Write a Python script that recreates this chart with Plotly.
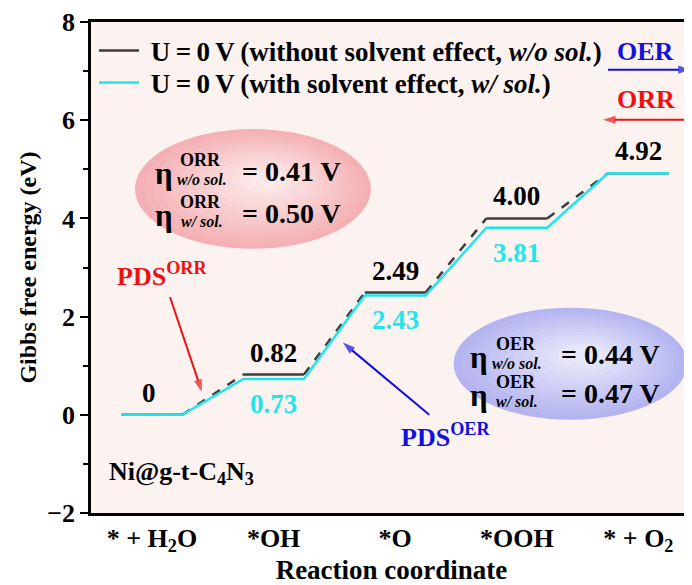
import plotly.graph_objects as go

# ---------------- data ----------------
steps = ["* + H<sub>2</sub>O", "*OH", "*O", "*OOH", "* + O<sub>2</sub>"]
g_without_sol = [0.00, 0.82, 2.49, 4.00, 4.92]
g_with_sol = [0.00, 0.73, 2.43, 3.81, 4.92]
sol_labels = ["w/o sol.", "w/ sol."]
eta_orr = [0.41, 0.50]
eta_oer = [0.44, 0.47]
series_names = [
    "\u00a0U\u2009=\u20090\u2009V\u2009(without solvent effect, <i>w/o sol.</i>)",
    "\u00a0U\u2009=\u20090\u2009V\u2009(with solvent effect, <i>w/ sol.</i>)",
]
material = "Ni@g-t-C<sub>4</sub>N<sub>3</sub>"

# ---------------- style ----------------
FONT = "Liberation Serif"
BLACK_LINE = "#3c3c3c"
CYAN = "#1fe6ec"
RED = "#ee1111"
BLUE = "#1010e0"
HALF = 0.25  # half width of an energy level (in step units)
# the page body has an 8px margin: the figure is shrunk so that it fits the window
PAGE_OFFSET = 8


def levels(vals):
    xs, ys = [], []
    for i, v in enumerate(vals):
        xs += [i - HALF, i + HALF, None]
        ys += [v, v, None]
    return xs, ys


def connectors(vals):
    xs, ys = [], []
    for i in range(len(vals) - 1):
        xs += [i + HALF, i + 1 - HALF, None]
        ys += [vals[i], vals[i + 1], None]
    return xs, ys


def staircase(vals):
    xs, ys = [], []
    for i, v in enumerate(vals):
        xs += [i - HALF, i + HALF]
        ys += [v, v]
    return xs, ys


fig = go.Figure()

lx, ly = levels(g_without_sol)
fig.add_trace(go.Scatter(x=lx, y=ly, mode="lines", name=series_names[0],
                         line=dict(color=BLACK_LINE, width=2.5),
                         legend="legend", hoverinfo="skip"))
cx, cy = connectors(g_without_sol)
fig.add_trace(go.Scatter(x=cx, y=cy, mode="lines", showlegend=False,
                         line=dict(color=BLACK_LINE, width=2.5, dash="dash"),
                         hoverinfo="skip"))
sx, sy = staircase(g_with_sol)
fig.add_trace(go.Scatter(x=sx, y=sy, mode="lines", name=series_names[1],
                         line=dict(color=CYAN, width=2.5),
                         legend="legend2", hoverinfo="skip"))


def arrow(tail, head, color):
    fig.add_trace(go.Scatter(x=[tail[0], head[0]], y=[tail[1], head[1]],
                             mode="lines+markers", showlegend=False, hoverinfo="skip",
                             line=dict(color=color, width=2),
                             marker=dict(symbol=["circle", "arrow"], size=[0, 13],
                                         angleref="previous", color=color,
                                         line=dict(width=0))))


ann = []
# level labels
for i, v in enumerate(g_without_sol):
    ann.append(dict(x=i, y=v, text="0" if v == 0 else f"{v:.2f}", showarrow=False,
                    yshift=22, xshift=-3 if v == 0 else 0,
                    font=dict(size=27, color="black")))
for i, v in enumerate(g_with_sol):
    if 0 < i < len(g_with_sol) - 1:
        ann.append(dict(x=i, y=v, text=f"{v:.2f}", showarrow=False,
                        yshift=-25, font=dict(size=27, color=CYAN)))


# gradient ellipses
def ellipse(cx0, cy0, rx, ry, outer, inner, n=14):
    shapes = []
    for k in range(n):
        t = k / (n - 1)
        f = 1 - 0.85 * t
        col = tuple(round(outer[j] + (inner[j] - outer[j]) * t) for j in range(3))
        ccx = cx0 + 0.12 * rx * t
        ccy = cy0 + 0.15 * ry * t
        shapes.append(dict(type="circle", xref="x", yref="y",
                           x0=ccx - rx * f, x1=ccx + rx * f,
                           y0=ccy - ry * f, y1=ccy + ry * f,
                           fillcolor="rgb(%d,%d,%d)" % col, line=dict(width=0),
                           layer="below"))
    return shapes


shapes = []
shapes += ellipse(0.83, 4.60, 0.97, 1.22, (244, 176, 180), (252, 232, 232))
shapes += ellipse(3.44, 1.04, 0.96, 1.14, (180, 180, 240), (232, 232, 251))


def eta_block(x_eta, y_line, x_right, proc, sub, val):
    out = []
    out.append(dict(x=x_eta, y=y_line - 0.05, text="η", showarrow=False,
                    font=dict(size=31, color="black")))
    out.append(dict(x=x_eta + 0.30, y=y_line + 0.23, text=proc, showarrow=False,
                    font=dict(size=18, color="black")))
    out.append(dict(x=x_eta + 0.31, y=y_line - 0.17, text=f"<i>{sub}</i>", showarrow=False,
                    font=dict(size=16, color="black")))
    out.append(dict(x=x_right, y=y_line, text=f"= {val:.2f} V", showarrow=False,
                    xanchor="right", font=dict(size=28, color="black")))
    return out


ann += eta_block(0.10, 4.96, 1.57, "ORR", sol_labels[0], eta_orr[0])
ann += eta_block(0.10, 4.10, 1.57, "ORR", sol_labels[1], eta_orr[1])
ann += eta_block(2.69, 1.22, 4.19, "OER", sol_labels[0], eta_oer[0])
ann += eta_block(2.69, 0.44, 4.19, "OER", sol_labels[1], eta_oer[1])

# PDS labels and arrows
ann.append(dict(x=0.08, y=2.85, text="PDS<sup>ORR</sup>", showarrow=False,
                font=dict(size=26, color=RED)))
arrow((0.148, 2.40), (0.41, 0.47), RED)
ann.append(dict(x=2.41, y=-0.43, text="PDS<sup>OER</sup>", showarrow=False,
                font=dict(size=26, color=BLUE)))
arrow((2.28, 0.0), (1.57, 1.47), BLUE)

# OER / ORR direction arrows
ann.append(dict(x=4.06, y=7.39, text="OER", showarrow=False,
                font=dict(size=26, color=BLUE)))
arrow((3.75, 7.03), (4.43, 7.03), BLUE)
ann.append(dict(x=4.06, y=6.42, text="ORR", showarrow=False,
                font=dict(size=26, color=RED)))
arrow((4.43, 6.01), (3.71, 6.01), RED)

# material label
ann.append(dict(x=-0.37, y=-1.18, text=material, showarrow=False, xanchor="left",
                font=dict(size=26, color="black")))

legend_style = dict(x=0.005, xanchor="left", yanchor="top",
                    bgcolor="rgba(0,0,0,0)", font=dict(size=27), itemwidth=40)

fig.update_layout(
    width=692 - PAGE_OFFSET, height=585 - PAGE_OFFSET,
    margin=dict(l=91 - PAGE_OFFSET, r=0, t=22 - PAGE_OFFSET, b=72),
    paper_bgcolor="white",
    plot_bgcolor="#fcf3f1",
    font=dict(family=FONT, size=22, color="black", weight="bold"),
    showlegend=True,
    legend=dict(y=0.991, **legend_style),
    legend2=dict(y=0.926, **legend_style),
    annotations=ann,
    shapes=shapes,
    xaxis=dict(range=[-0.5016, 4.4408], showline=True, linewidth=2.5,
               linecolor="black", mirror=True, ticks="",
               tickvals=list(range(len(steps))), ticktext=steps,
               tickfont=dict(size=26), showgrid=False, zeroline=False,
               automargin=False,
               title=dict(text="Reaction coordinate", font=dict(size=27), standoff=10)),
    yaxis=dict(range=[-2, 8], showline=True, linewidth=2.5, linecolor="black",
               ticks="outside", ticklen=8, tickwidth=2, tickcolor="black",
               tickvals=[-2, 0, 2, 4, 6, 8], tickfont=dict(size=26),
               minor=dict(tickvals=[-1, 1, 3, 5, 7], ticks="outside",
                          ticklen=5, tickwidth=2, tickcolor="black"),
               showgrid=False, zeroline=False, automargin=False,
               title=dict(text="Gibbs free energy (eV)", font=dict(size=24), standoff=4)),
)

fig.write_html("out.html")
